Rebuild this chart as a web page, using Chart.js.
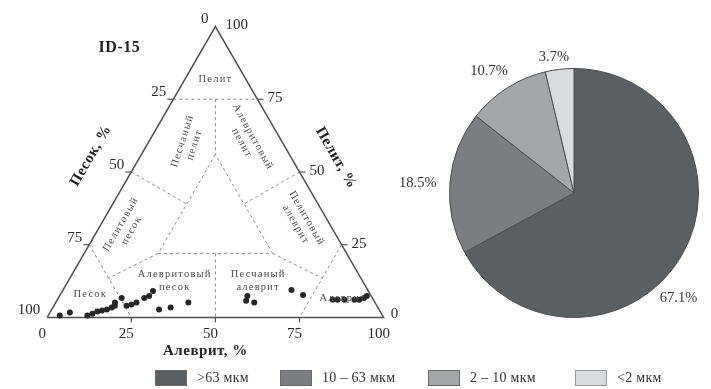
<!DOCTYPE html>
<html>
<head>
<meta charset="utf-8">
<script src="https://cdn.jsdelivr.net/npm/chart.js@4/dist/chart.umd.min.js"></script>
<style>
  html, body { margin: 0; padding: 0; background: #fff; }
  #wrap { position: relative; width: 711px; height: 389px; overflow: hidden; font-family: "Liberation Serif", "DejaVu Serif", serif; }
  #tern { position: absolute; left: 0; top: 0; }
  #pie { position: absolute; left: 400px; top: 0; }
  #legend { position: absolute; left: 0; top: 369px; width: 711px; height: 18px; }
  .item { position: absolute; top: 0; height: 18px; display: flex; align-items: center; font-size: 14px; letter-spacing: 0.3px; color: #333; white-space: nowrap; }
  .box { width: 32px; height: 16px; box-sizing: border-box; border: 1px solid #6a6a6a; margin-right: 10px; }
</style>
</head>
<body>
<div id="wrap">
  <canvas id="tern" width="420" height="389"></canvas>
  <canvas id="pie" width="311" height="389"></canvas>
  <div id="legend"></div>
</div>
<script>
// Grain-size fractions of sample ID-15, %
const fractionLabels = ['>63 мкм', '10 – 63 мкм', '2 – 10 мкм', '<2 мкм'];
const fractionShares = [67.1, 18.5, 10.7, 3.7];
const fractionColors = ['#5c5f62', '#7b7d80', '#a4a6a8', '#d9dbde'];

// Sand / silt / clay composition of the individual samples, %
const sampleSand = [95.9, 92.4, 87.7, 85.9, 84.1, 82.5, 80.9, 79.1, 77.9, 77.3, 74.5, 74.4, 72.7, 70.9, 67.8, 66.0,
                    64.0, 65.4, 61.6, 55.5, 38.0, 36.8, 35.9, 22.7, 20.1, 12.1, 10.6, 8.6, 5.6, 4.2, 2.5, 1.3];
const sampleSilt = [3.4, 5.9, 11.6, 12.8, 13.9, 15.1, 16.4, 17.5, 18.1, 17.6, 18.8, 21.6, 22.9, 24.0, 25.5, 26.6,
                    26.9, 31.9, 35.0, 39.4, 56.3, 55.8, 59.0, 67.9, 72.2, 81.8, 83.3, 85.3, 88.3, 89.7, 90.8, 91.3];
const sampleClay = [0.7, 1.7, 0.7, 1.3, 2.0, 2.4, 2.7, 3.4, 4.0, 5.1, 6.7, 4.0, 4.4, 5.1, 6.7, 7.4,
                    9.1, 2.7, 3.4, 5.1, 5.7, 7.4, 5.1, 9.4, 7.7, 6.1, 6.1, 6.1, 6.1, 6.1, 6.7, 7.4];

// Tick values shared by the three sides of the triangle
const sideTicks = [0, 25, 50, 75, 100];

// Classification boundaries, each a polyline of [silt, clay] compositions
const classBoundaries = [
  [[0, 75], [25, 75]],
  [[12.5, 75], [22, 56]],
  [[22, 56], [22, 22], [56, 22], [22, 56]],
  [[0, 50], [22, 39]],
  [[50, 50], [39, 39]],
  [[0, 25], [25, 0]],
  [[75, 25], [75, 0]],
  [[22, 22], [11.5, 13.5]],
  [[56, 22], [75, 13.5]],
  [[39, 22], [50, 0]]
];

// Class names inside the triangle: [lines, silt, clay, rotation in degrees]
const classNames = [
  [['Пелит'], 9, 82, 0],
  [['Песчаный', 'пелит'], 12, 60, -72],
  [['Алевритовый', 'пелит'], 29, 61, 61],
  [['Пелитовый', 'песок'], 8, 31, -60],
  [['Пелитовый', 'алеврит'], 59, 33, 60],
  [['Алевритовый', 'песок'], 31.6, 12.6, 0],
  [['Песчаный', 'алеврит'], 56.4, 12.6, 0],
  [['Песок'], 8.8, 8, 0],
  [['Алеврит'], 84.5, 6.7, 0]
];

// Placement of the percentage labels around the pie: share of the slice angle, gap from the rim
const pieLabelPlacement = [[0.56, 24], [0.48, 32], [0.44, 24], [0.37, 13]];

// Silt along the base, clay towards the apex
const toXY = (silt, clay) => ({ x: silt + clay / 2, y: clay });

const SERIF = '"Liberation Serif", "DejaVu Serif", serif';

const ternaryDecor = {
  id: 'ternaryDecor',
  afterDatasetsDraw(chart) {
    const { ctx, scales: { x, y } } = chart;
    const P = (silt, clay) => {
      const p = toXY(silt, clay);
      return [x.getPixelForValue(p.x), y.getPixelForValue(p.y)];
    };
    ctx.save();
    ctx.strokeStyle = '#555';
    ctx.lineWidth = 1.2;
    ctx.fillStyle = '#2b2b2b';
    ctx.font = '15px ' + SERIF;

    // Sand side (left): 0 at the apex, 100 at the lower-left corner
    sideTicks.forEach(v => {
      const [px, py] = P(0, 100 - v);
      if (v > 0 && v < 100) {
        ctx.beginPath(); ctx.moveTo(px, py); ctx.lineTo(px - 6, py); ctx.stroke();
      }
      ctx.textAlign = 'right'; ctx.textBaseline = 'middle';
      ctx.fillText(String(v), px - 7, py - 7);
    });
    // Clay side (right): 100 at the apex, 0 at the lower-right corner
    sideTicks.forEach(v => {
      const [px, py] = P(100 - v, v);
      if (v > 0 && v < 100) {
        ctx.beginPath(); ctx.moveTo(px, py); ctx.lineTo(px + 6, py); ctx.stroke();
      }
      ctx.textAlign = 'left'; ctx.textBaseline = 'middle';
      ctx.fillText(String(v), px + (v === 0 ? 7 : 10), py - (v === 0 ? 3 : 1));
    });
    // Silt side (base)
    sideTicks.forEach(v => {
      const [px, py] = P(v, 0);
      if (v > 0 && v < 100) {
        ctx.beginPath(); ctx.moveTo(px, py); ctx.lineTo(px, py + 5); ctx.stroke();
      }
      ctx.textAlign = 'center'; ctx.textBaseline = 'middle';
      ctx.fillText(String(v), px - 5, py + 17);
    });

    // Axis titles
    ctx.font = 'bold 15px ' + SERIF;
    ctx.fillStyle = '#222';
    ctx.textAlign = 'center'; ctx.textBaseline = 'middle';
    if ('letterSpacing' in ctx) ctx.letterSpacing = '0.5px';
    const [bx, by] = P(50, 0);
    ctx.fillText('Алеврит, %', bx - 10, by + 34);
    const [lx, ly] = P(0, 48);
    ctx.save(); ctx.translate(lx - 37, ly - 22); ctx.rotate(-Math.PI / 3);
    ctx.fillText('Песок, %', 0, 0); ctx.restore();
    const [rx, ry] = P(52, 48);
    ctx.save(); ctx.translate(rx + 33, ry - 20); ctx.rotate(Math.PI / 3);
    ctx.fillText('Пелит, %', 0, 0); ctx.restore();

    // Sample name
    ctx.font = 'bold 16px ' + SERIF;
    const [ax, ay] = P(0, 100);
    ctx.fillText('ID-15', ax - 96, ay + 21);

    // Class names
    ctx.font = '10.5px ' + SERIF;
    ctx.fillStyle = '#4a4a4a';
    if ('letterSpacing' in ctx) ctx.letterSpacing = '1.2px';
    classNames.forEach(([lines, silt, clay, rot]) => {
      const [cx, cy] = P(silt, clay);
      ctx.save();
      ctx.translate(cx, cy);
      ctx.rotate(rot * Math.PI / 180);
      const lh = 12.5;
      lines.forEach((t, i) => ctx.fillText(t, 0, (i - (lines.length - 1) / 2) * lh));
      ctx.restore();
    });
    ctx.restore();
  }
};

const boundaryDatasets = classBoundaries.map(line => ({
  type: 'scatter',
  data: line.map(([s, c]) => toXY(s, c)),
  showLine: true,
  borderColor: '#8a8a8a',
  borderWidth: 1,
  borderDash: [3, 3],
  pointRadius: 0,
  order: 3
}));

new Chart(document.getElementById('tern'), {
  type: 'scatter',
  data: {
    datasets: [
      {
        data: [toXY(0, 0), toXY(100, 0), toXY(0, 100), toXY(0, 0)],
        showLine: true,
        borderColor: '#4f4f4f',
        borderWidth: 1.5,
        pointRadius: 0,
        order: 2
      },
      ...boundaryDatasets,
      {
        data: sampleSilt.map((s, i) => toXY(s, sampleClay[i])),
        pointRadius: 3,
        pointBackgroundColor: '#262626',
        pointBorderColor: '#262626',
        pointBorderWidth: 0,
        order: 0
      }
    ]
  },
  options: {
    responsive: false,
    animation: false,
    layout: { padding: 0 },
    scales: {
      x: { type: 'linear', min: -12.83, max: 109.62, display: false },
      y: { type: 'linear', min: -23.23, max: 107.74, display: false }
    },
    plugins: { legend: { display: false }, tooltip: { enabled: false } }
  },
  plugins: [ternaryDecor]
});

// Percentage labels outside the slices
const pieLabels = {
  id: 'pieLabels',
  afterDatasetsDraw(chart) {
    const { ctx } = chart;
    const arcs = chart.getDatasetMeta(0).data;
    ctx.save();
    ctx.font = '14.5px ' + SERIF;
    ctx.fillStyle = '#333';
    ctx.textAlign = 'center';
    ctx.textBaseline = 'middle';
    arcs.forEach((arc, i) => {
      const { x, y, startAngle, endAngle, outerRadius } = arc.getProps(['x', 'y', 'startAngle', 'endAngle', 'outerRadius'], true);
      const [share, gap] = pieLabelPlacement[i];
      const a = startAngle + (endAngle - startAngle) * share;
      const r = outerRadius + gap;
      ctx.fillText(fractionShares[i].toFixed(1) + '%', x + Math.cos(a) * r, y + Math.sin(a) * r);
    });
    ctx.restore();
  }
};

new Chart(document.getElementById('pie'), {
  type: 'pie',
  data: {
    labels: fractionLabels,
    datasets: [{
      data: fractionShares,
      backgroundColor: fractionColors,
      borderColor: '#4d4d4d',
      borderWidth: 1
    }]
  },
  options: {
    responsive: false,
    animation: false,
    layout: { padding: { left: 49, right: 12, top: 68, bottom: 71 } },
    plugins: { legend: { display: false }, tooltip: { enabled: false } }
  },
  plugins: [pieLabels]
});

// Legend for the grain-size fractions
const legendLeft = [155, 280, 428, 575];
const legend = document.getElementById('legend');
fractionLabels.forEach((label, i) => {
  const item = document.createElement('div');
  item.className = 'item';
  item.style.left = legendLeft[i] + 'px';
  const box = document.createElement('span');
  box.className = 'box';
  box.style.background = fractionColors[i];
  if (i === fractionLabels.length - 1) box.style.borderColor = '#999';
  item.appendChild(box);
  item.appendChild(document.createTextNode(label));
  legend.appendChild(item);
});
</script>
</body>
</html>
